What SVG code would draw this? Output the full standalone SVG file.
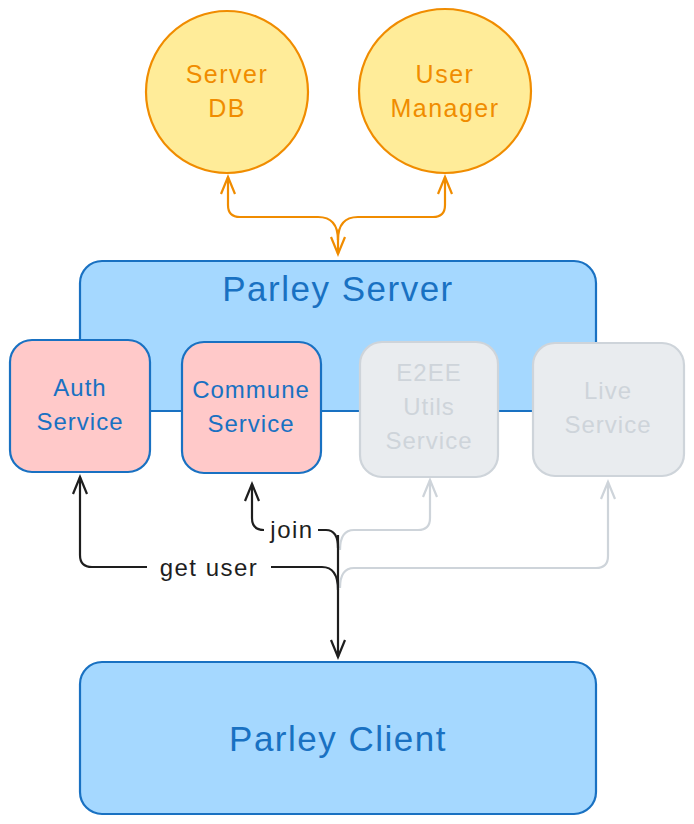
<svg xmlns="http://www.w3.org/2000/svg" width="694" height="824" viewBox="0 0 694 824">
<style>
text{font-family:"Liberation Sans","Noto Sans",sans-serif;text-anchor:middle;dominant-baseline:central}
.circ{fill:#ffec99;stroke:#f08c00;stroke-width:2.2}
.ot{fill:#f08c00;font-size:25px;letter-spacing:1.5px}
.box{fill:#a5d8ff;stroke:#1971c2;stroke-width:2.2}
.svc{fill:#ffc9c9;stroke:#1971c2;stroke-width:2.2}
.gsvc{fill:#e9ecef;stroke:#ced4da;stroke-width:2.2}
.bt{fill:#1971c2;font-size:24px;letter-spacing:1px}
.gt{fill:#ced4da;font-size:24px;letter-spacing:1px}
.big{fill:#1971c2;font-size:35px;letter-spacing:1.5px}
.o{fill:none;stroke:#f08c00;stroke-width:2.2}
.k{fill:none;stroke:#1e1e1e;stroke-width:2.2}
.g{fill:none;stroke:#ced4da;stroke-width:2.2}
.lbl{fill:#1e1e1e;font-size:24px;letter-spacing:1.5px}
</style>
<defs>
<marker id="ao" markerUnits="userSpaceOnUse" markerWidth="22" markerHeight="22" refX="18" refY="8" orient="auto" viewBox="0 0 22 16"><path d="M1,1 L18,8 L1,15" fill="none" stroke="#f08c00" stroke-width="2.2"/></marker>
<marker id="ak" markerUnits="userSpaceOnUse" markerWidth="22" markerHeight="22" refX="18" refY="8" orient="auto" viewBox="0 0 22 16"><path d="M1,1 L18,8 L1,15" fill="none" stroke="#1e1e1e" stroke-width="2.2"/></marker>
<marker id="ag" markerUnits="userSpaceOnUse" markerWidth="22" markerHeight="22" refX="18" refY="8" orient="auto" viewBox="0 0 22 16"><path d="M1,1 L18,8 L1,15" fill="none" stroke="#ced4da" stroke-width="2.2"/></marker>
</defs>

<g id="server-db">
<ellipse class="circ" cx="227" cy="92" rx="81" ry="81"/>
<text class="ot" x="227" y="74">Server</text>
<text class="ot" x="227" y="108">DB</text>
</g>
<g id="user-manager">
<ellipse class="circ" cx="445" cy="91" rx="86" ry="82"/>
<text class="ot" x="445" y="74">User</text>
<text class="ot" x="445" y="108">Manager</text>
</g>

<g id="parley-server">
<rect class="box" x="80" y="261" width="516" height="150" rx="22"/>
<text class="big" x="338" y="288">Parley Server</text>
</g>

<g id="auth-service">
<rect class="svc" x="10" y="340" width="140" height="132" rx="22"/>
<text class="bt" x="80" y="387">Auth</text>
<text class="bt" x="80" y="421">Service</text>
</g>
<g id="commune-service">
<rect class="svc" x="182" y="342" width="139" height="131" rx="22"/>
<text class="bt" x="251" y="389">Commune</text>
<text class="bt" x="251" y="423">Service</text>
</g>
<g id="e2ee-service">
<rect class="gsvc" x="360" y="342" width="138" height="135" rx="22"/>
<text class="gt" x="429" y="372">E2EE</text>
<text class="gt" x="429" y="406">Utils</text>
<text class="gt" x="429" y="440">Service</text>
</g>
<g id="live-service">
<rect class="gsvc" x="533" y="343" width="151" height="133" rx="22"/>
<text class="gt" x="608" y="390">Live</text>
<text class="gt" x="608" y="424">Service</text>
</g>

<g id="parley-client">
<rect class="box" x="80" y="662" width="516" height="152" rx="22"/>
<text class="big" x="338" y="738">Parley Client</text>
</g>

<g id="connectors">
<path class="o" d="M338,240 Q338,217 318,217 L240,217 Q228,217 228,205 L228,177" marker-end="url(#ao)"/>
<path class="o" d="M338,240 Q338,217 358,217 L433,217 Q445,217 445,205 L445,177" marker-end="url(#ao)"/>
<path class="o" d="M338,230 L338,254" marker-end="url(#ao)"/>

<path class="g" d="M340,550 Q340,530 354,530 L418,530 Q430,530 430,518 L430,480" marker-end="url(#ag)"/>
<path class="g" d="M340,588 Q340,568 354,568 L596,568 Q608,568 608,556 L608,482" marker-end="url(#ag)"/>

<path class="k" d="M338,548 Q338,530 326,530 L264,530 Q252,530 252,518 L252,484" marker-end="url(#ak)"/>
<path class="k" d="M338,590 Q338,567 322,567 L92,567 Q80,567 80,555 L80,477" marker-end="url(#ak)"/>
<path class="k" d="M338,535 L338,657" marker-end="url(#ak)"/>
<rect x="264" y="516" width="54" height="28" fill="#ffffff"/>
<text class="lbl" x="292" y="529">join</text>
<rect x="147" y="553" width="124" height="28" fill="#ffffff"/>
<text class="lbl" x="209" y="567">get user</text>
</g>
</svg>
